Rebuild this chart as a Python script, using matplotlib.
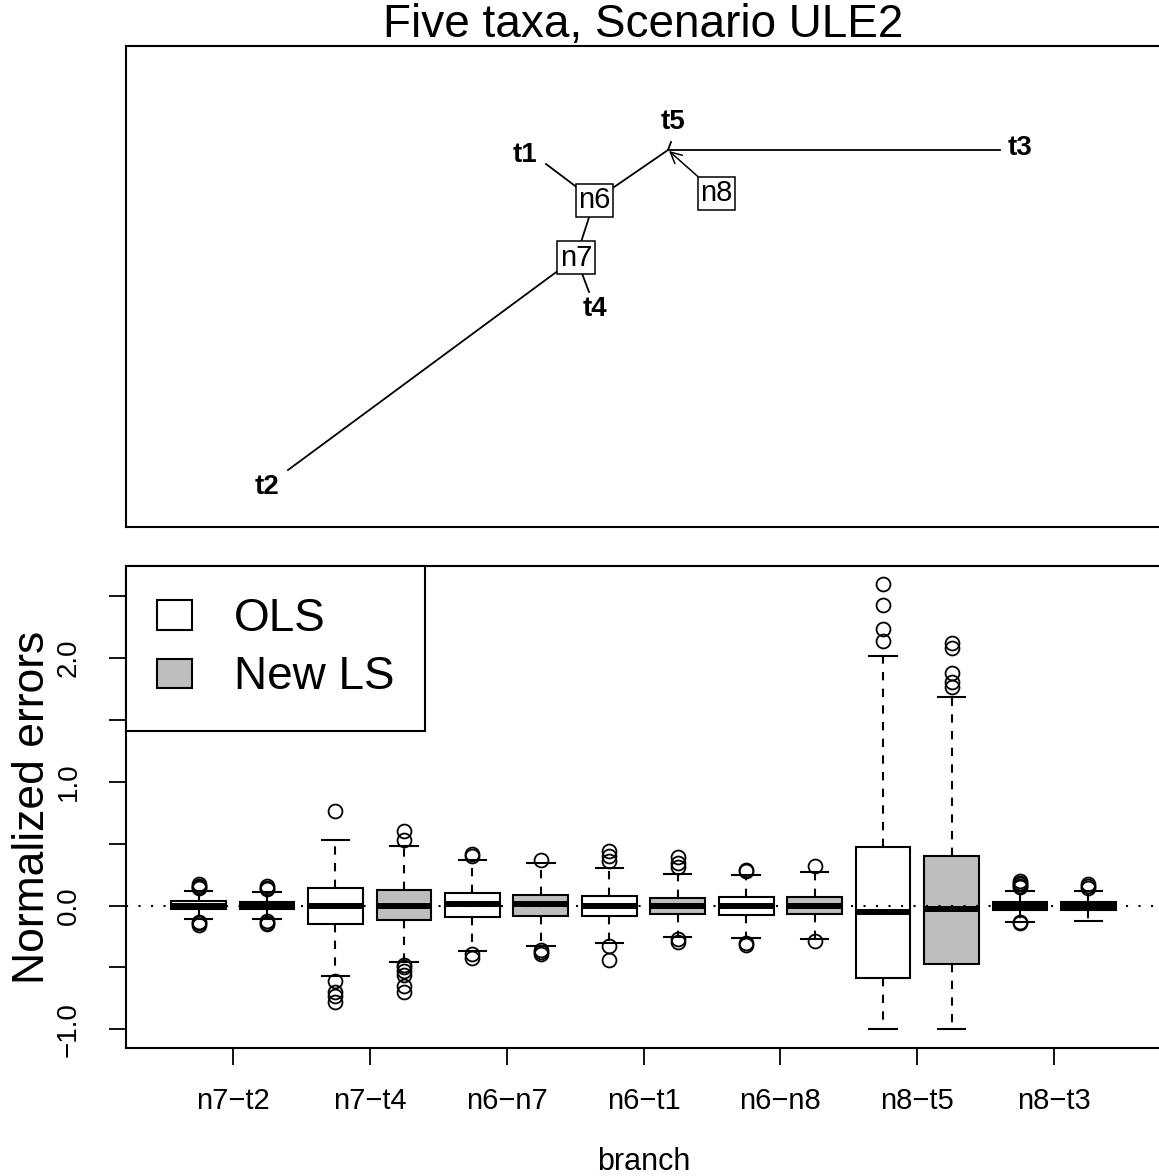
import numpy as np
import matplotlib.pyplot as plt
from matplotlib.patches import Patch

plt.rcParams['font.family'] = ['Liberation Sans', 'DejaVu Sans']

# ---- tree (unrooted layout, plot units) ----
node_names = ['t2', 'n7', 't4', 'n6', 't1', 'n8', 't5', 't3']
node_x = [162, 450, 463, 468.5, 420, 542, 545, 874]
node_y = [57, 269.5, 235, 326.5, 363, 377, 385, 377]
edges = [('n7', 't2'), ('n7', 't4'), ('n7', 'n6'), ('n6', 't1'),
         ('n6', 'n8'), ('n8', 't5'), ('n8', 't3')]
tips = ['t2', 't4', 't1', 't5', 't3']
inner_nodes = ['n7', 'n6']
arrow_node = 'n8'
arrow_label_xy = (590.7, 333.7)

# ---- normalized errors per branch / method ----
branches = ['n7−t2', 'n7−t4', 'n6−n7', 'n6−t1', 'n6−n8', 'n8−t5', 'n8−t3']
methods = ['OLS', 'New LS']
med = [0.0, 0.0, 0.0, -0.005, 0.01, 0.01, 0.0, 0.0, 0.0, 0.0, -0.056, -0.03, 0.0, 0.0]
q1 = [-0.032, -0.03, -0.15, -0.115, -0.089, -0.083, -0.081, -0.067, -0.073, -0.07,
      -0.586, -0.473, -0.038, -0.036]
q3 = [0.034, 0.03, 0.143, 0.127, 0.10, 0.083, 0.075, 0.062, 0.067, 0.07,
      0.476, 0.40, 0.032, 0.032]
whislo = [-0.11, -0.11, -0.57, -0.457, -0.365, -0.325, -0.30, -0.255, -0.26, -0.27,
          -1.0, -1.0, -0.13, -0.127]
whishi = [0.12, 0.11, 0.53, 0.48, 0.365, 0.34, 0.30, 0.255, 0.25, 0.27,
          2.01, 1.68, 0.12, 0.12]
fliers = [
    [0.14, 0.15, 0.16, 0.17, -0.13, -0.145, -0.155],
    [0.13, 0.145, 0.16, -0.125, -0.14, -0.15],
    [0.76, -0.61, -0.70, -0.73, -0.78],
    [0.60, 0.53, -0.48, -0.50, -0.53, -0.56, -0.65, -0.70],
    [0.40, 0.417, -0.395, -0.42],
    [0.37, -0.36, -0.375, -0.39],
    [0.36, 0.40, 0.44, -0.33, -0.44],
    [0.31, 0.34, 0.39, -0.27, -0.295],
    [0.28, 0.29, -0.30, -0.315],
    [0.317, -0.285],
    [2.594, 2.427, 2.23, 2.137],
    [2.115, 2.078, 1.88, 1.80, 1.76],
    [0.15, 0.16, 0.17, 0.18, 0.20, -0.135, -0.145],
    [0.145, 0.16, 0.175],
]
method_colors = ['white', '#BEBEBE']

W, H = 1159, 1176
fig = plt.figure(figsize=(W / 100, H / 100), dpi=100)


def frac(l, t, r, b):
    return [l / W, 1 - b / H, (r - l) / W, (b - t) / H]


# ---------------- top panel: tree ----------------
ax_tree = fig.add_axes(frac(126, 46, 1161, 527))
ax_tree.set_xlim(0, 1035)
ax_tree.set_ylim(0, 481)
ax_tree.set_xticks([])
ax_tree.set_yticks([])
for s in ax_tree.spines.values():
    s.set_linewidth(1.5)

pos = {n: (x, y) for n, x, y in zip(node_names, node_x, node_y)}
for a, b in edges:
    ax_tree.plot([pos[a][0], pos[b][0]], [pos[a][1], pos[b][1]],
                 color='black', lw=1.3, zorder=1)

# tip label offsets in points
tip_off = {'t2': (-14.8, -12.6), 't4': (4.3, -12.2), 't1': (-15.1, 6.8),
           't5': (1.1, 14.6), 't3': (14.4, 1.4)}
for t in tips:
    ax_tree.annotate(t, pos[t], xytext=tip_off[t], textcoords='offset points',
                     ha='center', va='center', fontsize=20, fontweight='bold')

box_style = dict(boxstyle='square,pad=0.08', facecolor='white',
                 edgecolor='black', lw=1.1)
for n in inner_nodes:
    ax_tree.text(pos[n][0], pos[n][1], n, ha='center', va='center',
                 fontsize=21, bbox=box_style, zorder=3)
ax_tree.annotate(arrow_node, pos[arrow_node], xytext=arrow_label_xy,
                 ha='center', va='center', fontsize=21, bbox=box_style,
                 arrowprops=dict(arrowstyle='->', color='black', lw=1.1,
                                 shrinkA=0, shrinkB=1, mutation_scale=20))

fig.text(643 / W, 1 - 37 / H, 'Five taxa, Scenario ULE2', ha='center',
         va='baseline', fontsize=33)

# ---------------- bottom panel: boxplots ----------------
ax = fig.add_axes(frac(126, 566, 1161, 1048))
stats = []
for i in range(len(med)):
    stats.append(dict(med=med[i], q1=q1[i], q3=q3[i], whislo=whislo[i],
                      whishi=whishi[i], fliers=fliers[i]))
positions = np.arange(1, len(med) + 1)
bp = ax.bxp(stats, positions=positions, widths=0.8, capwidths=0.4,
            patch_artist=True, manage_ticks=False,
            boxprops=dict(edgecolor='black', lw=1.5),
            medianprops=dict(color='black', lw=4.3, solid_capstyle='butt'),
            whiskerprops=dict(color='black', lw=1.5, linestyle=(0, (4, 4))),
            capprops=dict(color='black', lw=1.5),
            flierprops=dict(marker='o', markersize=10, markerfacecolor='none',
                            markeredgecolor='black', markeredgewidth=1.3))
for i, patch in enumerate(bp['boxes']):
    patch.set_facecolor(method_colors[i % 2])

ax.axhline(0, color='black', lw=1.5, linestyle=(0, (1, 5)), zorder=5)

ax.set_xlim(-0.06, 15.06)
ax.set_ylim(-1.15, 2.74)
ax.set_xticks(np.arange(1.5, len(med), 2), branches, fontsize=21)
yt = [-1.0, -0.5, 0.0, 0.5, 1.0, 1.5, 2.0, 2.5]
ax.set_yticks(yt, ['−1.0', '', '0.0', '', '1.0', '', '2.0', ''],
              fontsize=20, rotation=90, va='center')
ax.tick_params(axis='x', length=12, width=1.3, pad=16)
ax.tick_params(axis='y', length=12, width=1.3, pad=20)
for s in ax.spines.values():
    s.set_linewidth(1.5)

ax.set_ylabel('Normalized errors', fontsize=32)
ax.yaxis.set_label_coords(-0.071, 0.5)
ax.set_xlabel('branch', fontsize=22)
ax.xaxis.set_label_coords(0.5, -0.205)

handles = [Patch(facecolor=c, edgecolor='black', lw=1.5) for c in method_colors]
leg = ax.legend(handles, methods, loc='upper left', borderaxespad=0,
                fontsize=33, frameon=True, fancybox=False, edgecolor='black',
                framealpha=1, handlelength=0.75, handleheight=0.61,
                handletextpad=0.92, borderpad=0.68, labelspacing=0.31)
leg.get_frame().set_linewidth(1.5)

fig.savefig('out.png', dpi=100)
